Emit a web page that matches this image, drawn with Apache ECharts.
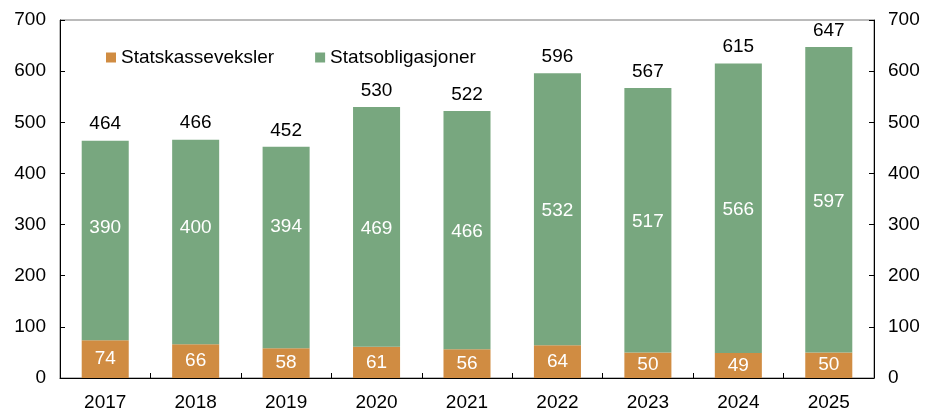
<!DOCTYPE html>
<html>
<head>
<meta charset="utf-8">
<script src="https://cdn.jsdelivr.net/npm/echarts@6/dist/echarts.min.js"></script>
<style>
  html, body { margin: 0; padding: 0; background: #fff; }
  #chart { width: 925px; height: 412px; }
</style>
</head>
<body>
<div id="chart"></div>
<script>
// data
const years = ['2017', '2018', '2019', '2020', '2021', '2022', '2023', '2024', '2025'];
const statskasseveksler = [74, 66, 58, 61, 56, 64, 50, 49, 50];
const statsobligasjoner = [390, 400, 394, 469, 466, 532, 517, 566, 597];
const totals = [464, 466, 452, 530, 522, 596, 567, 615, 647];

const font = 'Liberation Sans, Arial, sans-serif';
var myChart = echarts.init(document.getElementById('chart'));

// the first three green labels sit higher in the original
const greenLabelShift = [-13, -14.5, -20.5, 1.5, 1.5, 1.5, 1.5, 1.5, 1.5];

const yAxisBase = {
    type: 'value',
    min: 0,
    max: 700,
    interval: 100,
    splitLine: { show: false },
    axisLine: { show: true, lineStyle: { color: '#000', width: 1 } },
    axisTick: { show: true, inside: true, length: 5, lineStyle: { color: '#000' } },
    axisLabel: { color: '#000', fontSize: 19, fontFamily: font, margin: 14 },
};

var option = {
    animation: false,
    grid: {
        left: 60, right: 51, top: 20, bottom: 33,
        show: true, borderColor: '#777', borderWidth: 1,
    },
    legend: {
        data: ['Statskasseveksler', 'Statsobligasjoner'],
        left: 106,
        top: 48,
        padding: 0,
        itemWidth: 10,
        itemHeight: 10,
        itemGap: 41,
        icon: 'rect',
        textStyle: { color: '#000', fontSize: 19, fontFamily: font },
    },
    xAxis: {
        type: 'category',
        data: years,
        axisLine: { lineStyle: { color: '#000', width: 1 } },
        axisTick: { show: true, inside: true, length: 5, lineStyle: { color: '#000' } },
        axisLabel: { color: '#000', fontSize: 19, fontFamily: font, margin: 15 },
    },
    yAxis: [
        Object.assign({}, yAxisBase, { position: 'left' }),
        Object.assign({}, yAxisBase, { position: 'right' }),
    ],
    series: [
        {
            name: 'Statskasseveksler',
            type: 'bar',
            stack: 'total',
            barWidth: '52%',
            itemStyle: { color: '#D08C42' },
            label: { show: true, position: 'inside', color: '#fff', fontSize: 19, fontFamily: font },
            data: statskasseveksler,
        },
        {
            name: 'Statsobligasjoner',
            type: 'bar',
            stack: 'total',
            itemStyle: { color: '#78A77F' },
            label: { show: true, position: 'inside', color: '#fff', fontSize: 19, fontFamily: font },
            data: statsobligasjoner.map((v, i) => ({ value: v, label: { offset: [0, greenLabelShift[i]] } })),
        },
        {
            name: 'Sum',
            type: 'bar',
            stack: 'total',
            itemStyle: { color: 'transparent' },
            label: {
                show: true, position: 'top', distance: 7, color: '#000', fontSize: 19, fontFamily: font,
                formatter: p => totals[p.dataIndex],
            },
            data: years.map(() => 0),
        },
    ],
};
option && myChart.setOption(option);
</script>
</body>
</html>
